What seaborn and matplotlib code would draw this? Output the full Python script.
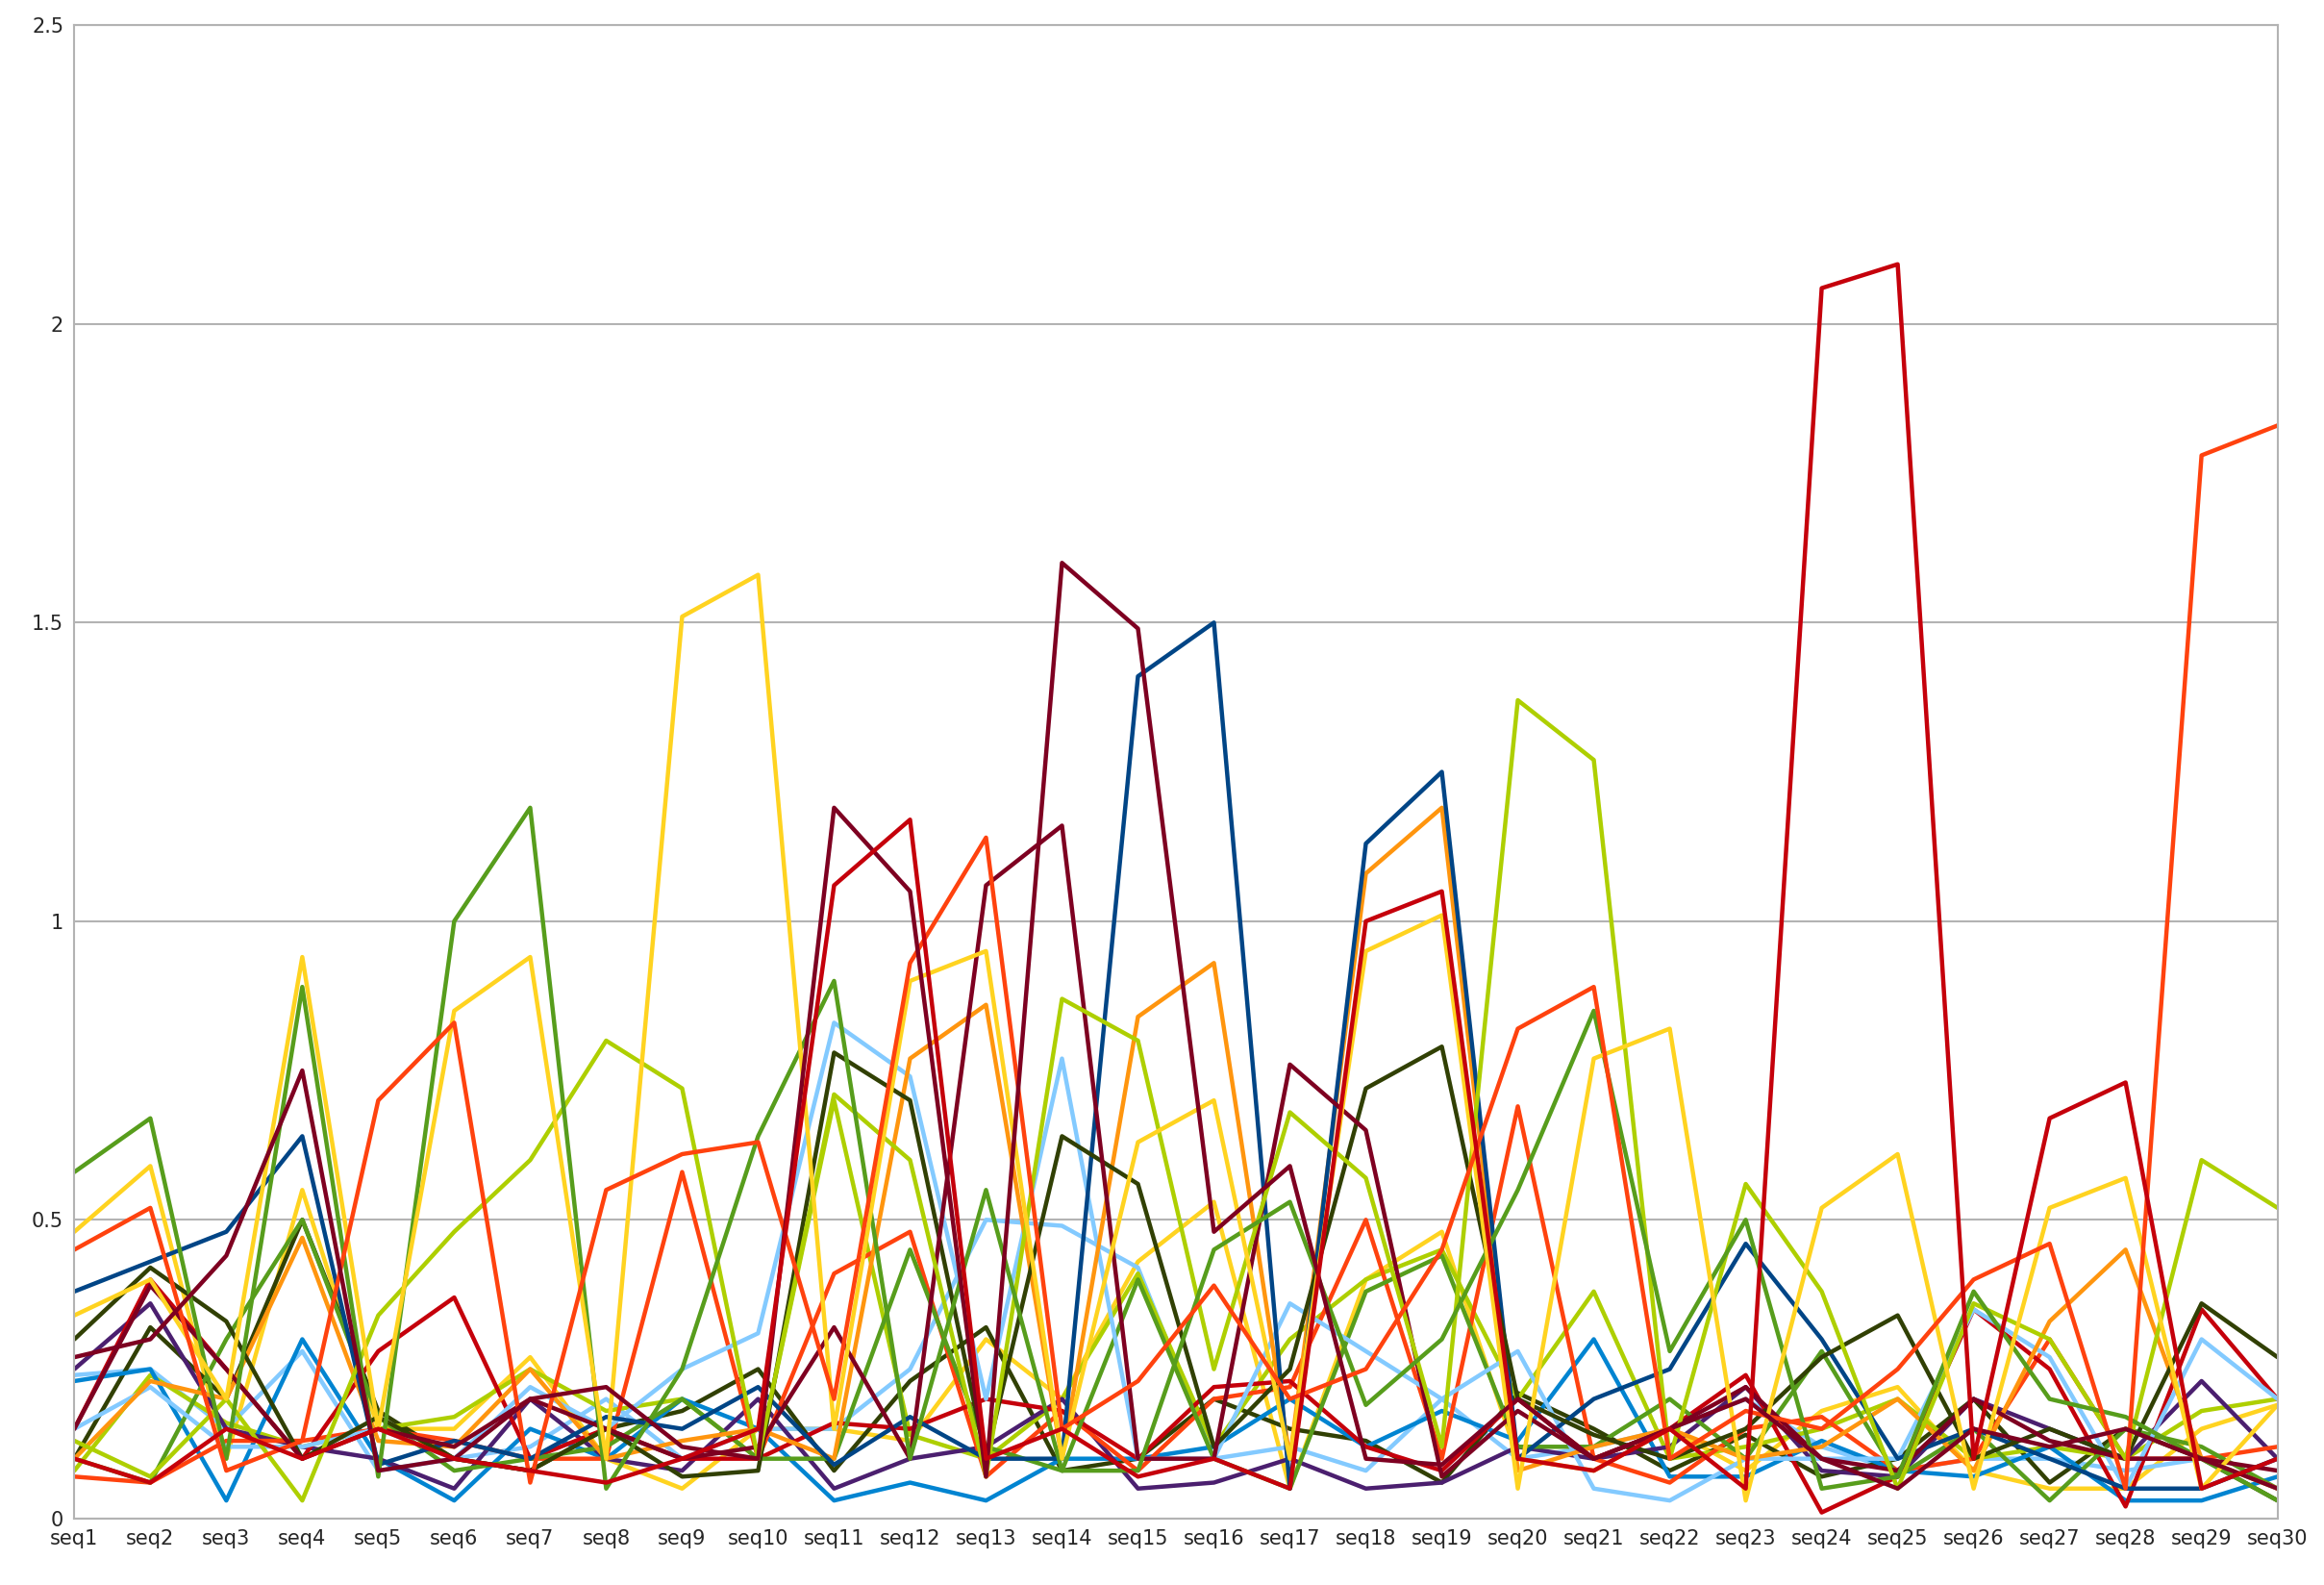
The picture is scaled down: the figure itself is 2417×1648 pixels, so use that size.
import matplotlib
matplotlib.use("Agg")
import matplotlib.pyplot as plt
import seaborn as sns
import pandas as pd

cats = [f"seq{i}" for i in range(1, 31)]

red_a = [0.1,0.06,0.15,0.1,0.15,0.1,0.08,0.06,0.1,0.15,1.06,1.17,0.1,0.15,0.07,0.1,0.05,1.0,1.05,0.1,0.08,0.15,0.05,2.06,2.1,0.1,0.67,0.73,0.05,0.1]
orangered_a = [0.45,0.52,0.08,0.13,0.7,0.83,0.06,0.55,0.61,0.63,0.2,0.93,1.14,0.15,0.23,0.39,0.2,0.25,0.45,0.82,0.89,0.1,0.18,0.15,0.25,0.4,0.46,0.05,1.78,1.83]
yellow_a = [0.34,0.4,0.2,0.94,0.15,0.85,0.94,0.1,1.51,1.58,0.15,0.9,0.95,0.1,0.63,0.7,0.1,0.95,1.01,0.05,0.77,0.82,0.03,0.52,0.61,0.05,0.52,0.57,0.05,0.19]
green_a = [0.58,0.67,0.1,0.89,0.07,1.0,1.19,0.05,0.25,0.64,0.9,0.1,0.55,0.08,0.08,0.45,0.53,0.19,0.3,0.55,0.85,0.28,0.5,0.05,0.07,0.38,0.2,0.17,0.1,0.03]
maroon_a = [0.27,0.3,0.44,0.75,0.08,0.1,0.2,0.22,0.12,0.1,1.19,1.05,0.07,1.6,1.49,0.48,0.59,0.1,0.09,0.2,0.1,0.15,0.2,0.1,0.05,0.15,0.12,0.15,0.1,0.05]
maroon_b = [0.15,0.39,0.25,0.1,0.15,0.12,0.2,0.15,0.1,0.12,0.32,0.1,1.06,1.16,0.1,0.1,0.76,0.65,0.07,0.18,0.1,0.15,0.22,0.1,0.08,0.2,0.13,0.1,0.1,0.08]
darkblue_a = [0.38,0.43,0.48,0.64,0.09,0.13,0.1,0.17,0.15,0.22,0.09,0.17,0.1,0.1,1.41,1.5,0.05,1.13,1.25,0.1,0.2,0.25,0.46,0.3,0.1,0.15,0.1,0.05,0.05,0.1]
orange_a = [0.1,0.23,0.2,0.47,0.13,0.12,0.25,0.1,0.13,0.15,0.1,0.77,0.86,0.1,0.84,0.93,0.1,1.08,1.19,0.08,0.12,0.15,0.1,0.12,0.2,0.08,0.33,0.45,0.1,0.05]
lime_a = [0.13,0.07,0.2,0.03,0.34,0.48,0.6,0.8,0.72,0.1,0.71,0.6,0.07,0.87,0.8,0.25,0.68,0.57,0.12,1.37,1.27,0.1,0.56,0.38,0.05,0.36,0.3,0.1,0.6,0.52]
lightblue_a = [0.15,0.22,0.12,0.12,0.15,0.1,0.22,0.15,0.25,0.31,0.83,0.74,0.2,0.77,0.1,0.1,0.36,0.28,0.2,0.28,0.05,0.03,0.1,0.1,0.1,0.35,0.27,0.05,0.3,0.2]
lightblue_b = [0.24,0.25,0.15,0.28,0.08,0.1,0.12,0.2,0.1,0.15,0.15,0.25,0.5,0.49,0.42,0.1,0.12,0.08,0.2,0.1,0.12,0.15,0.2,0.12,0.08,0.1,0.1,0.08,0.1,0.05]
olive_a = [0.3,0.42,0.33,0.1,0.17,0.1,0.08,0.15,0.07,0.08,0.78,0.7,0.1,0.64,0.56,0.12,0.25,0.72,0.79,0.2,0.14,0.1,0.15,0.27,0.34,0.1,0.15,0.1,0.36,0.27]
olive_b = [0.1,0.32,0.2,0.5,0.18,0.1,0.08,0.15,0.18,0.25,0.08,0.23,0.32,0.08,0.1,0.2,0.15,0.13,0.06,0.21,0.15,0.08,0.14,0.07,0.1,0.2,0.06,0.15,0.1,0.03]
blue_a = [0.23,0.25,0.03,0.3,0.1,0.03,0.15,0.1,0.2,0.15,0.03,0.06,0.03,0.1,0.1,0.12,0.2,0.12,0.18,0.13,0.3,0.07,0.07,0.13,0.08,0.07,0.12,0.03,0.03,0.07]
purple_a = [0.25,0.36,0.15,0.12,0.1,0.05,0.2,0.1,0.08,0.2,0.05,0.1,0.12,0.2,0.05,0.06,0.1,0.05,0.06,0.12,0.1,0.12,0.22,0.08,0.07,0.2,0.15,0.1,0.23,0.1]
orangered_b = [0.07,0.06,0.13,0.13,0.15,0.13,0.1,0.1,0.58,0.1,0.41,0.48,0.07,0.18,0.08,0.2,0.22,0.5,0.1,0.69,0.1,0.06,0.15,0.17,0.08,0.1,0.3,0.1,0.1,0.12]
red_b = [0.15,0.4,0.25,0.1,0.28,0.37,0.1,0.15,0.1,0.1,0.16,0.15,0.2,0.18,0.1,0.22,0.23,0.12,0.08,0.2,0.1,0.15,0.24,0.01,0.07,0.35,0.25,0.02,0.35,0.2]
yellow_b = [0.48,0.59,0.1,0.55,0.15,0.15,0.27,0.1,0.05,0.15,0.15,0.13,0.3,0.2,0.43,0.53,0.05,0.4,0.48,0.1,0.08,0.15,0.08,0.18,0.22,0.08,0.05,0.05,0.15,0.19]
green_b = [0.1,0.06,0.3,0.5,0.17,0.08,0.1,0.12,0.2,0.1,0.1,0.45,0.12,0.08,0.4,0.1,0.05,0.38,0.44,0.12,0.12,0.2,0.1,0.28,0.07,0.15,0.03,0.15,0.12,0.05]
lime_b = [0.08,0.24,0.16,0.12,0.15,0.17,0.25,0.18,0.2,0.1,0.7,0.14,0.1,0.2,0.41,0.12,0.3,0.4,0.45,0.2,0.38,0.1,0.12,0.15,0.2,0.1,0.12,0.1,0.18,0.2]

series = [
    ("#ffd320", yellow_b), ("#83caff", lightblue_b), ("#314004", olive_b), ("#aecf00", lime_b),
    ("#0084d1", blue_a), ("#4b1f6f", purple_a), ("#ff420e", orangered_b), ("#c5000b", red_b),
    ("#579d1c", green_b), ("#83caff", lightblue_a), ("#ff950e", orange_a), ("#004586", darkblue_a),
    ("#314004", olive_a), ("#7e0021", maroon_b), ("#aecf00", lime_a), ("#579d1c", green_a),
    ("#ffd320", yellow_a), ("#ff420e", orangered_a), ("#7e0021", maroon_a), ("#c5000b", red_a),
]

sns.set_theme(style="white")
fig, ax = plt.subplots(figsize=(24.17, 16.48), dpi=100)
for color, vals in series:
    df = pd.DataFrame({"x": cats, "y": vals})
    sns.lineplot(data=df, x="x", y="y", color=color, linewidth=3.2, sort=False, ax=ax)

ax.set_ylim(0, 2.5)
ax.set_xlim(0, 29)
ax.set_yticks([0, 0.5, 1, 1.5, 2, 2.5])
ax.set_yticklabels(["0", "0.5", "1", "1.5", "2", "2.5"])
ax.yaxis.grid(True, color="#b3b3b3", linewidth=1.5)
ax.set_axisbelow(True)
for s in ax.spines.values():
    s.set_color("#b3b3b3")
    s.set_linewidth(1.5)
ax.tick_params(axis="both", labelsize=15, length=0, pad=8)
ax.set_xlabel("")
ax.set_ylabel("")
fig.subplots_adjust(left=0.032, right=0.98, top=0.984, bottom=0.042)
fig.savefig("out.png", dpi=100)
